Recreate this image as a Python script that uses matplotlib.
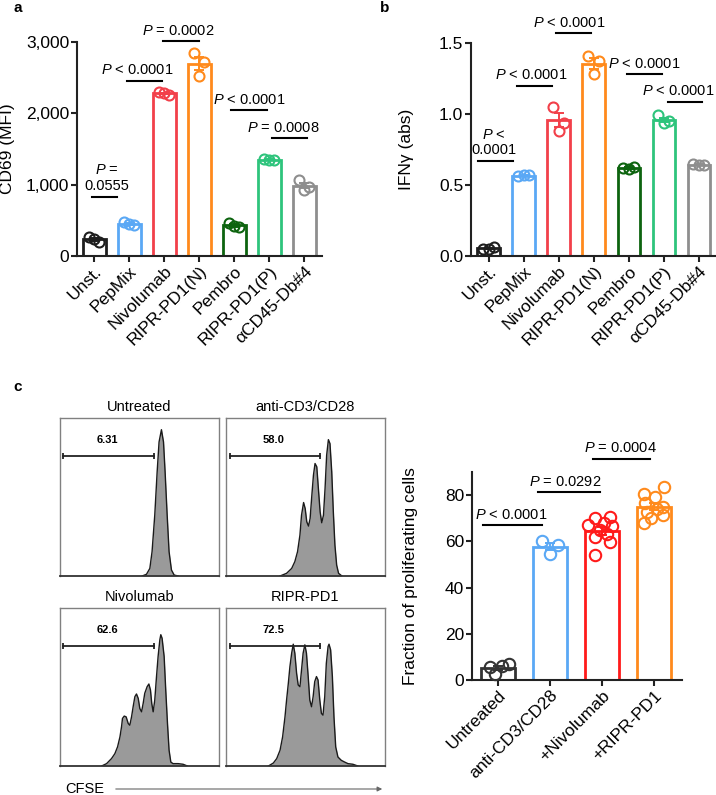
import matplotlib
matplotlib.use('Agg')
import matplotlib.pyplot as plt
import numpy as np
from matplotlib.patches import FancyArrowPatch

plt.rcParams['font.family'] = ['Liberation Sans', 'DejaVu Sans']
plt.rcParams['mathtext.fontset'] = 'custom'
plt.rcParams['mathtext.it'] = 'Liberation Sans:italic'
plt.rcParams['mathtext.rm'] = 'Liberation Sans'

# ---------------- data ----------------
a_categories = ['Unst.', 'PepMix', 'Nivolumab', 'RIPR-PD1(N)', 'Pembro', 'RIPR-PD1(P)', 'αCD45-Db#4']
a_points = [[260, 200, 240], [470, 430, 455], [2300, 2260, 2280], [2840, 2720, 2530],
            [460, 400, 425], [1360, 1340, 1350], [1060, 970, 930]]
a_pvalues = ['$P$ =\n0.0555', '$P$ < 0.0001', '$P$ = 0.0002', '$P$ < 0.0001', '$P$ = 0.0008']

b_categories = ['Unst.', 'PepMix', 'Nivolumab', 'RIPR-PD1(N)', 'Pembro', 'RIPR-PD1(P)', 'αCD45-Db#4']
b_points = [[0.05, 0.06, 0.05], [0.56, 0.57, 0.57], [1.05, 0.94, 0.88], [1.41, 1.37, 1.28],
            [0.62, 0.63, 0.61], [0.99, 0.95, 0.94], [0.65, 0.64, 0.64]]
b_pvalues = ['$P$ <\n0.0001', '$P$ < 0.0001', '$P$ < 0.0001', '$P$ < 0.0001', '$P$ < 0.0001']

c_categories = ['Untreated', 'anti-CD3/CD28', '+Nivolumab', '+RIPR-PD1']
c_points = [[5.5, 7.0, 2.5, 6.0],
            [60.1, 58.2, 54.7],
            [70.0, 70.5, 67.0, 68.0, 66.5, 65.0, 63.0, 62.0, 59.5, 54.0],
            [83.5, 80.5, 79.0, 76.5, 75.0, 74.0, 72.5, 71.5, 70.0, 68.0]]
c_pvalues = ['$P$ < 0.0001', '$P$ = 0.0292', '$P$ = 0.0004']

hist_titles = ['Untreated', 'anti-CD3/CD28', 'Nivolumab', 'RIPR-PD1']
hist_gate_labels = ['6.31', '58.0', '62.6', '72.5']
hist_untreated_x = [0.517, 0.544, 0.565, 0.579, 0.596, 0.611, 0.623, 0.638, 0.651, 0.661, 0.674, 0.686, 0.701, 0.718, 0.743]
hist_untreated_y = [0, 0.011, 0.048, 0.154, 0.385, 0.659, 0.848, 0.926, 0.848, 0.659, 0.385, 0.154, 0.038, 0.006, 0]
hist_cd3_x = [0.340, 0.381, 0.413, 0.433, 0.450, 0.465, 0.475, 0.488, 0.498, 0.508, 0.519, 0.529, 0.540, 0.550, 0.560,
              0.571, 0.581, 0.592, 0.602, 0.613, 0.623, 0.633, 0.644, 0.654, 0.665, 0.675, 0.685, 0.696, 0.708, 0.729]
hist_cd3_y = [0, 0.017, 0.048, 0.091, 0.154, 0.259, 0.385, 0.465, 0.427, 0.343, 0.316, 0.364, 0.512, 0.638, 0.712,
              0.691, 0.554, 0.406, 0.337, 0.385, 0.554, 0.764, 0.863, 0.838, 0.659, 0.406, 0.196, 0.069, 0.017, 0]
hist_nivo_x = [0.262, 0.293, 0.324, 0.345, 0.362, 0.377, 0.387, 0.393, 0.404, 0.416, 0.429, 0.439, 0.450, 0.460, 0.471,
               0.481, 0.492, 0.502, 0.513, 0.523, 0.533, 0.548, 0.559, 0.569, 0.577, 0.586, 0.596, 0.607, 0.617, 0.628,
               0.634, 0.642, 0.655, 0.665, 0.676, 0.686, 0.697, 0.711, 0.743, 0.774, 0.801]
hist_nivo_y = [0, 0.015, 0.047, 0.078, 0.121, 0.184, 0.248, 0.301, 0.316, 0.311, 0.269, 0.258, 0.311, 0.375, 0.439,
               0.456, 0.428, 0.364, 0.343, 0.396, 0.460, 0.502, 0.519, 0.481, 0.396, 0.343, 0.417, 0.566, 0.693, 0.799,
               0.831, 0.809, 0.693, 0.481, 0.269, 0.100, 0.025, 0.015, 0.015, 0.011, 0]
hist_ripr_x = [0.267, 0.298, 0.319, 0.340, 0.356, 0.371, 0.381, 0.392, 0.402, 0.413, 0.423, 0.433, 0.444, 0.454, 0.465,
               0.475, 0.485, 0.496, 0.506, 0.517, 0.527, 0.538, 0.548, 0.558, 0.569, 0.579, 0.590, 0.600, 0.610, 0.621,
               0.631, 0.642, 0.648, 0.658, 0.669, 0.679, 0.690, 0.704, 0.725, 0.746, 0.767, 0.798, 0.829]
hist_ripr_y = [0, 0.019, 0.047, 0.100, 0.184, 0.311, 0.417, 0.523, 0.629, 0.714, 0.771, 0.714, 0.587, 0.513, 0.502,
               0.608, 0.714, 0.767, 0.714, 0.566, 0.417, 0.375, 0.439, 0.534, 0.566, 0.544, 0.417, 0.333, 0.322, 0.439,
               0.650, 0.756, 0.771, 0.735, 0.566, 0.311, 0.121, 0.057, 0.036, 0.025, 0.015, 0.011, 0]

# ---------------- style ----------------
a_colors = ['#1e1e1e', '#5aa8f5', '#f2404a', '#ff8a1c', '#0d640f', '#2ec47c', '#8e8e8e']
c_colors = ['#333333', '#5aa8f5', '#ff1a1a', '#ff8a1c']
offsets3 = [-0.16, 0.15, 0.0]
offsets4 = [-0.15, 0.22, -0.05, 0.08]
offsets10_n = [-0.135, 0.15, -0.26, 0.03, 0.19, -0.04, 0.09, -0.13, 0.15, -0.14]
offsets10_r = [0.2, -0.19, 0.02, -0.17, 0.17, 0.05, -0.14, 0.18, -0.05, -0.2]

W, H = 716, 795
fig = plt.figure(figsize=(W / 100, H / 100), dpi=100)


def rect(l, t, r, b):
    return [l / W, 1 - b / H, (r - l) / W, (b - t) / H]


LBL = 12.5
PFS = 10.5


def barpanel(ax, cats, pts, colors, offs, ms, width):
    x = np.arange(len(cats))
    means = [np.mean(p) for p in pts]
    sems = [np.std(p, ddof=1) / np.sqrt(len(p)) for p in pts]
    ax.bar(x, means, width=width, facecolor='white', edgecolor=colors, linewidth=2.0, zorder=2)
    for i in range(len(cats)):
        ax.errorbar(x[i], means[i], yerr=sems[i], color=colors[i], capsize=3.5, lw=1.4,
                    capthick=1.4, zorder=3)
        ax.plot(x[i] + np.array(offs[i][:len(pts[i])]), pts[i], 'o', mfc='none', mec=colors[i],
                ms=ms, mew=1.5, zorder=4, clip_on=False)
    for s in ['top', 'right']:
        ax.spines[s].set_visible(False)
    for s in ['left', 'bottom']:
        ax.spines[s].set_linewidth(1.5)
        ax.spines[s].set_color('#222222')
    ax.tick_params(axis='both', length=4, width=1.5, color='#222222', labelsize=LBL, pad=1.5)
    ax.set_xticks(x)
    ax.set_xticklabels(cats, rotation=45, ha='right', va='top', rotation_mode='anchor')


def bracket(ax, x1, x2, y, text, tx):
    ax.plot([x1, x2], [y, y], color='black', lw=1.5, clip_on=False, zorder=5)
    ax.annotate(text, xy=(tx, y), xytext=(0, 2.5), textcoords='offset points', ha='center',
                va='bottom', fontsize=PFS, linespacing=1.15, annotation_clip=False)


# ---- panel a ----
axa = fig.add_axes(rect(77, 42, 322, 256))
barpanel(axa, a_categories, a_points, a_colors, [offsets3] * 7, 7.2, 0.65)
axa.set_xlim(-0.49, 6.51)
axa.set_ylim(0, 3000)
axa.set_yticks([0, 1000, 2000, 3000])
axa.set_yticklabels(['0', '1,000', '2,000', '3,000'])
axa.set_ylabel('CD69 (MFI)', fontsize=LBL)
axa.yaxis.set_label_coords((15 - 77) / 245, 0.5)
a_br = [(-0.06, 0.66, 833, 0.37), (0.94, 1.94, 2458, 1.24), (1.97, 3.0, 3014, 2.39),
        (3.91, 4.94, 2042, 4.44), (5.09, 6.09, 1653, 5.41)]
for (x1, x2, y, tx), t in zip(a_br, a_pvalues):
    bracket(axa, x1, x2, y, t, tx)

# ---- panel b ----
axb = fig.add_axes(rect(471, 43, 715, 256))
barpanel(axb, b_categories, b_points, a_colors, [offsets3] * 7, 7.2, 0.65)
axb.set_xlim(-0.51, 6.46)
axb.set_ylim(0, 1.5)
axb.set_yticks([0, 0.5, 1.0, 1.5])
axb.set_yticklabels(['0.0', '0.5', '1.0', '1.5'])
axb.set_ylabel('IFNγ (abs)', fontsize=LBL)
axb.yaxis.set_label_coords((414 - 471) / 244, 0.5)
b_br = [(-0.31, 0.69, 0.67, 0.14), (0.8, 1.8, 1.20, 1.21), (1.91, 2.91, 1.57, 2.29),
        (3.94, 4.94, 1.28, 4.43), (5.11, 6.09, 1.085, 5.4)]
for (x1, x2, y, tx), t in zip(b_br, b_pvalues):
    bracket(axb, x1, x2, y, t, tx)

# ---- panel c bars ----
axc = fig.add_axes(rect(472, 472, 682, 680))
barpanel(axc, c_categories, c_points, c_colors, [offsets4, offsets3, offsets10_n, offsets10_r], 8.2, 0.65)
axc.set_xlim(-0.5, 3.54)
axc.set_ylim(0, 90)
axc.set_yticks([0, 20, 40, 60, 80])
axc.set_ylabel('Fraction of proliferating cells', fontsize=LBL)
axc.yaxis.set_label_coords((418 - 472) / 210, 0.5)
c_br = [(-0.29, 0.85, 67, 0.25), (0.77, 1.96, 81.3, 1.30), (1.83, 2.92, 95.7, 2.35)]
for (x1, x2, y, tx), t in zip(c_br, c_pvalues):
    bracket(axc, x1, x2, y, t, tx)

# ---- panel c histograms ----
boxes = [(60, 418, 219, 576), (226, 418, 385, 576), (60, 608, 219, 766), (226, 608, 385, 766)]
hx = [hist_untreated_x, hist_cd3_x, hist_nivo_x, hist_ripr_x]
hy = [hist_untreated_y, hist_cd3_y, hist_nivo_y, hist_ripr_y]
for i, bx in enumerate(boxes):
    ax = fig.add_axes(rect(*bx))
    ax.fill_between(hx[i], hy[i], 0, color='#9a9a9a', lw=0)
    ax.plot(hx[i], hy[i], color='#1a1a1a', lw=1.0)
    ax.set_xlim(0, 1)
    ax.set_ylim(0, 1)
    ax.set_xticks([])
    ax.set_yticks([])
    for s in ax.spines.values():
        s.set_color('#808080')
        s.set_linewidth(1.0)
    ax.spines['bottom'].set_color('#333333')
    ax.spines['bottom'].set_linewidth(1.3)
    ax.set_title(hist_titles[i], fontsize=10.5, pad=5)
    g0, g1 = (0.02, 0.592) if i % 2 == 0 else (0.027, 0.594)
    ax.plot([g0, g1], [0.762, 0.762], color='#222222', lw=1.3)
    ax.plot([g0, g1], [0.762, 0.762], '|', color='#222222', ms=5, mew=1.3)
    ax.text(0.30, 0.86, hist_gate_labels[i], fontsize=8, fontweight='bold', ha='center', va='center')

fig.text(65 / W, 1 - 789 / H, 'CFSE', fontsize=10.5, ha='left', va='center')
fig.add_artist(FancyArrowPatch((113 / W, 1 - 789 / H), (385 / W, 1 - 789 / H), transform=fig.transFigure,
                               arrowstyle='-|>', mutation_scale=7, color='#666666', lw=0.8))

# panel letters
fig.text(18 / W, 1 - 8 / H, 'a', fontsize=11, fontweight='bold', ha='center', va='center')
fig.text(385 / W, 1 - 8 / H, 'b', fontsize=11, fontweight='bold', ha='center', va='center')
fig.text(18 / W, 1 - 387 / H, 'c', fontsize=11, fontweight='bold', ha='center', va='center')

fig.savefig('out.png', dpi=100)
